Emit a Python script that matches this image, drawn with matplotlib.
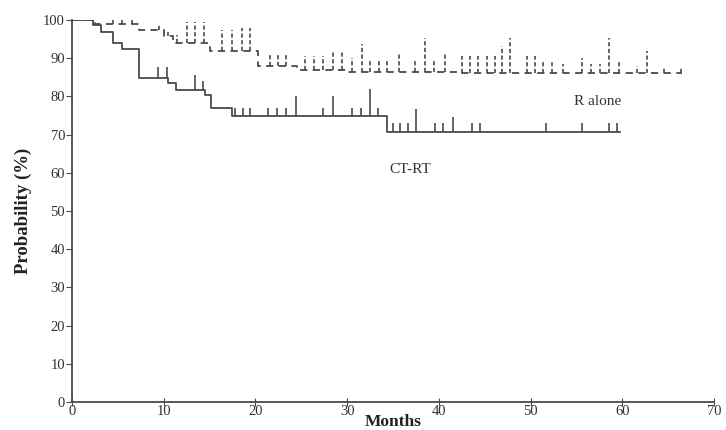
import numpy as np
from matplotlib import pyplot as plt

plt.rcParams['font.family'] = ['Liberation Serif', 'DejaVu Serif']

# Kaplan-Meier steps (months, probability %)
ctrt_time = [0, 2.3, 3.2, 4.5, 5.4, 7.3, 10.5, 11.3, 14.5, 15.2, 17.4, 34.4, 59.8]
ctrt_surv = [100, 98.7, 96.8, 94.1, 92.3, 84.8, 83.5, 81.8, 80.4, 77.0, 74.8, 70.8, 70.8]

# censor marks: month, top of the mark
ctrt_cens = [9.4, 10.4, 13.4, 14.3, 17.8, 18.6, 19.4, 21.4, 22.4, 23.3, 24.4,
             27.4, 28.5, 30.5, 31.5, 32.5, 33.4, 35.0, 35.8, 36.6, 37.5,
             39.6, 40.4, 41.5, 43.6, 44.5, 51.7, 55.6, 58.5, 59.4]
ctrt_top = [87.6, 87.6, 85.6, 84.1, 77, 77, 77, 77, 77, 77, 80.2,
            77, 80.2, 77, 77, 82, 77, 73, 73, 73, 76.6,
            73, 73, 74.7, 73, 73, 73, 73, 73, 73]

ralone_time = [0, 2.5, 7.3, 10.0, 11.0, 15.0, 20.3, 24.5, 30.0, 42.0, 66.5]
ralone_surv = [100, 99.0, 97.5, 95.8, 94.1, 91.8, 88.0, 87.0, 86.5, 86.0, 86.0]

ralone_cens = [4.5, 5.5, 6.5, 9.5, 10.5, 11.5, 12.5, 13.4, 14.4, 16.4, 17.4, 18.5, 19.4,
               21.6, 22.5, 23.3, 25.4, 26.4, 27.4, 28.5, 29.4, 30.5, 31.6, 32.5,
               33.5, 34.4, 35.6, 37.4, 38.5, 39.5, 40.7, 42.5, 43.4, 44.3, 45.2,
               46.1, 46.9, 47.8, 49.6, 50.5, 51.4, 52.3, 53.5, 55.6, 56.6, 57.6,
               58.6, 59.6, 61.6, 62.7, 64.5, 66.4]
ralone_top = [100.8, 100.8, 100.8, 99, 97.5, 96, 99.6, 99.6, 99.6, 97.5, 97.5, 98, 98,
              91, 91, 91, 90.5, 90.5, 90.5, 91.8, 91.8, 90, 93.6, 89.5,
              89.5, 89.5, 91.5, 89.5, 95.4, 89.5, 91, 90.5, 90.5, 90.5, 90.5,
              90.5, 93.1, 95.4, 90.5, 90.5, 89, 89, 88.5, 90, 88.5, 88.5,
              95.4, 89, 88, 92, 87.5, 87.5]

line_col = '#4a4a4a'

fig = plt.figure(figsize=(7.26, 4.30), dpi=100)
ax = fig.add_axes([72/726, 28/430, 642/726, 382/430])


def base_at(t, times, surv):
    i = np.searchsorted(times, t, side='right') - 1
    return np.array(surv)[i]


ax.step(ctrt_time, ctrt_surv, where='post', color=line_col, lw=1.3)
ax.vlines(ctrt_cens, base_at(ctrt_cens, ctrt_time, ctrt_surv), ctrt_top,
          color=line_col, lw=1.2)

ax.step(ralone_time, ralone_surv, where='post', color=line_col, lw=1.3,
        linestyle=(0, (4, 3)))
ax.vlines(ralone_cens, base_at(ralone_cens, ralone_time, ralone_surv), ralone_top,
          color=line_col, lw=1.2, linestyles=[(0, (2.5, 1.5))])

ax.text(57.3, 78.6, 'R alone', fontsize=11, ha='center', va='center', color='#333333')
ax.text(36.9, 60.8, 'CT-RT', fontsize=11, ha='center', va='center', color='#333333')

ax.set_xlim(0, 70)
ax.set_ylim(0, 100)
ax.set_xticks(range(0, 71, 10))
ax.set_yticks(range(0, 101, 10))
ax.spines['top'].set_visible(False)
ax.spines['right'].set_visible(False)
for s in ['left', 'bottom']:
    ax.spines[s].set_color(line_col)
    ax.spines[s].set_linewidth(1.3)
ax.tick_params(axis='x', direction='inout', length=6, color=line_col, labelsize=10.5,
               labelcolor='#333333', pad=-1)
ax.tick_params(axis='y', direction='out', length=4, color=line_col, labelsize=10.5,
               labelcolor='#333333', pad=1)
ax.set_xlabel('Months', fontsize=12.5, fontweight='bold', color='#222222', labelpad=-3)
ax.set_ylabel('Probability (%)', fontsize=13.5, fontweight='bold', color='#222222', labelpad=8)

plt.savefig('out.png', dpi=100)
